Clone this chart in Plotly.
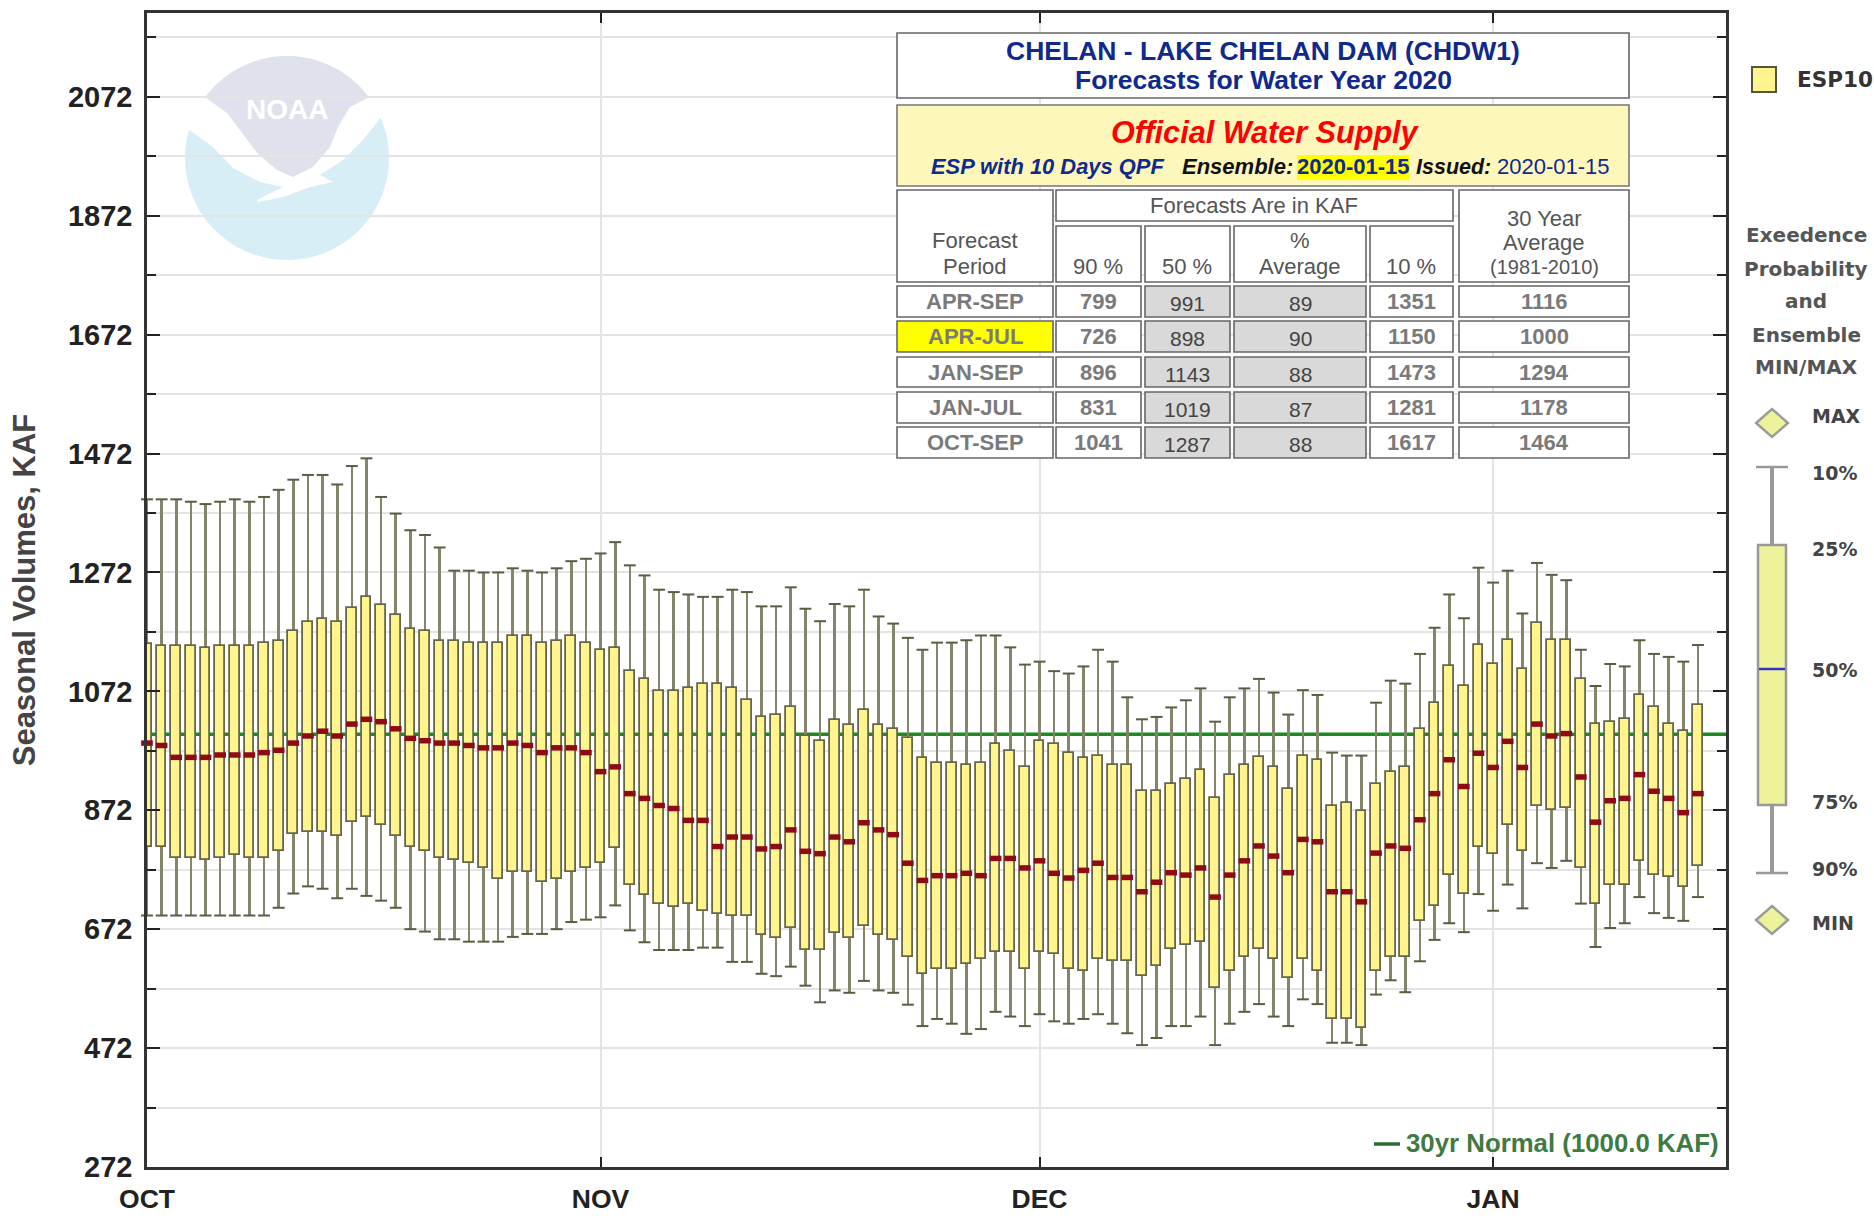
import numpy as np
import plotly.graph_objects as go

# ---------------- data -----------------
first_day = "2019-10-01"
p10 = [1395,1395,1395,1391,1387,1391,1395,1391,1399,1411,1428,1436,1436,1420,1451,1464,1399,1371,1343,1335,1314,1275,1275,1272,1272,1279,1275,1272,1279,1291,1295,1304,1323,
       1284,1267,1243,1239,1235,1231,1231,1243,1239,1215,1215,1247,1211,1190,1219,1215,1243,1198,1186,1162,1142,1154,1154,1158,1166,1166,1146,1117,1122,1106,1102,1114,1142,
       1122,1062,1025,1029,1045,1057,1077,1021,1062,1077,1093,1070,1033,1074,1066,969,964,964,1053,1090,1085,1135,1179,1235,1195,1280,1255,1275,1203,1288,1268,1259,1142,1081,1118,1114,1158,1135,1130,1122,1150]
p25 = [1152,1149,1149,1149,1145,1149,1149,1149,1153,1157,1173,1189,1193,1189,1213,1230,1217,1201,1177,1173,1157,1157,1153,1153,1153,1165,1165,1153,1157,1165,1153,1141,1145,
       1106,1093,1073,1073,1077,1085,1085,1077,1057,1029,1033,1045,997,989,1024,1016,1041,1016,1008,993,960,952,952,948,952,984,972,944,989,984,968,960,964,
       948,948,904,904,916,924,940,892,932,948,961,944,908,964,957,880,884,871,916,936,944,1009,1053,1114,1081,1150,1118,1158,1110,1187,1158,1158,1093,1017,1021,1025,1066,1045,1017,1005,1049]
p50 = [985,981,961,961,961,965,965,965,969,973,985,997,1005,997,1017,1025,1021,1009,993,989,985,985,981,977,977,985,981,969,977,977,969,937,945,
       900,892,880,875,855,855,811,827,827,807,811,839,803,799,827,819,851,839,831,783,754,762,762,766,762,791,791,775,787,766,758,771,783,
       759,759,735,751,767,763,775,726,763,787,812,795,767,823,819,735,735,718,800,812,808,856,900,957,912,968,944,988,944,1017,997,1001,928,852,888,892,932,904,892,868,900]
p75 = [811,811,792,792,788,792,796,792,792,804,832,836,836,828,852,860,848,828,811,804,792,788,784,775,756,768,768,752,756,768,775,784,808,
       747,729,714,710,714,702,698,694,694,662,657,674,637,637,666,657,678,662,653,626,597,605,605,613,622,634,634,605,634,630,605,601,622,
       618,618,594,610,638,646,650,573,602,626,638,622,590,622,602,521,521,505,602,626,626,686,711,763,731,811,799,848,803,880,872,876,775,715,747,747,787,763,759,743,779]
p90 = [695,695,695,695,695,695,695,695,695,708,732,744,740,724,740,728,720,708,672,668,655,655,651,651,651,659,664,664,672,684,688,692,712,
       670,650,637,637,637,641,641,617,617,597,593,609,577,549,569,565,585,569,565,545,509,521,513,496,504,533,525,509,529,517,513,521,529,
       513,497,477,489,509,509,525,477,513,533,546,525,509,554,546,481,481,477,562,586,566,618,654,682,667,731,703,747,707,783,775,787,715,642,674,682,726,699,691,686,726]
normal_30yr = 1000

periods = ["APR-SEP", "APR-JUL", "JAN-SEP", "JAN-JUL", "OCT-SEP"]
tbl_90 = [799, 726, 896, 831, 1041]
tbl_50 = [991, 898, 1143, 1019, 1287]
tbl_pct = [89, 90, 88, 87, 88]
tbl_10 = [1351, 1150, 1473, 1281, 1617]
tbl_avg = [1116, 1000, 1294, 1178, 1464]

month_ticks = ["2019-10-01", "2019-11-01", "2019-12-01", "2020-01-01"]
month_labels = ["OCT", "NOV", "DEC", "JAN"]

# ---------------- page geometry -----------------
W, H = 1874, 1218
L, R, T, B = 147, 1726, 13, 1167
def fx(x): return (x - L) / (R - L)
def fy(y): return 1 - (y - T) / (B - T)

FONT = "Liberation Sans"
WIDE = "DejaVu Sans"
DAY_MS = 86400000
dates = np.datetime64(first_day) + np.arange(len(p10)) * np.timedelta64(1, "D")
dates = [str(d) for d in dates]
arr = lambda v: np.array(v, dtype=float)

fig = go.Figure()
fig.add_trace(go.Bar(x=dates, base=p90, y=(arr(p10) - arr(p90)).tolist(), width=0.18 * DAY_MS,
                     marker=dict(color="#85856c", line=dict(width=0)), cliponaxis=False,
                     showlegend=False, hoverinfo="skip"))
fig.add_trace(go.Bar(x=dates, base=p75, y=(arr(p25) - arr(p75)).tolist(), width=0.66 * DAY_MS,
                     marker=dict(color="#fff48e", line=dict(color="#66664a", width=1.8)), cliponaxis=False,
                     name="ESP10", showlegend=False, hoverinfo="skip"))
for vals in (p10, p90):
    fig.add_trace(go.Scatter(x=dates, y=vals, mode="markers", cliponaxis=False, showlegend=False, hoverinfo="skip",
                             marker=dict(symbol="line-ew", size=8.5, line=dict(color="#5c5c44", width=2))))
fig.add_trace(go.Scatter(x=dates, y=p50, mode="markers", cliponaxis=False, showlegend=False, hoverinfo="skip",
                         marker=dict(symbol="line-ew", size=8.3, line=dict(color="#8e0a16", width=5.5))))

shapes = []
ann = []

def rect(x0, y0, x1, y1, fill="white", line="#666666", w=1.6, layer="above"):
    shapes.append(dict(type="rect", xref="paper", yref="paper", x0=fx(x0), x1=fx(x1), y0=fy(y1), y1=fy(y0),
                       fillcolor=fill, line=dict(color=line, width=w), layer=layer))

def txt(x, y, s, size, color="#333333", bold=False, italic=False, anchor="center", family=FONT):
    ann.append(dict(xref="paper", yref="paper", x=fx(x), y=fy(y), text=s, showarrow=False, xanchor=anchor,
                    yanchor="middle", borderpad=0, align="center",
                    font=dict(family=family, size=size, color=color, weight="bold" if bold else "normal",
                              style="italic" if italic else "normal")))

shapes.append(dict(type="line", xref="paper", yref="y", x0=0, x1=1, y0=normal_30yr, y1=normal_30yr,
                   line=dict(color="#1f8a22", width=3.5), layer="between"))

# NOAA logo watermark
def arc(cx, cy, r, a0, a1, n=60):
    t = np.radians(np.linspace(a0, a1, n))
    return list(zip(cx + r * np.cos(t), cy + r * np.sin(t)))
def poly(points, fill):
    p = "M" + "L".join(f"{fx(a):.5f},{fy(b):.5f}" for a, b in points) + "Z"
    shapes.append(dict(type="path", xref="paper", yref="paper", path=p, fillcolor=fill, line=dict(width=0), layer="below"))
poly(arc(287, 158, 102, -143.4, -36.6) + [(350, 107), (338, 127), (330, 147), (313, 167), (293, 177), (277, 170), (257, 153), (240, 130), (227, 113)], "#dfe2ed")
poly(arc(287, 158, 102, 196.1, -23.3) + [(363, 140), (343, 160), (320, 175), (333, 182), (310, 187), (283, 197), (258, 202), (257, 200), (283, 187), (260, 182), (233, 168), (213, 147)], "#d8eef6")
txt(287, 110, "NOAA", 28, "#ffffff", True)

shapes.append(dict(type="line", xref="paper", yref="paper", x0=fx(1374), x1=fx(1400), y0=fy(1144), y1=fy(1144),
                   line=dict(color="#2b6f2e", width=3.5), layer="above"))
txt(1720, 1143, "30yr Normal (1000.0 KAF)", 25.8, "#3f7a42", True, anchor="right")

# title block
NAVY = "#10298c"
rect(897, 33, 1629, 98)
txt(1263, 51, "CHELAN - LAKE CHELAN DAM (CHDW1)", 26.5, NAVY, True)
txt(1263, 80, "Forecasts for Water Year 2020", 26.5, NAVY, True)
rect(897, 105, 1629, 186, fill="#fef7bb", line="#777777")
txt(1265, 132, "Official Water Supply", 30.6, "#ff0000", True, True)
rect(1297, 155, 1409, 180, fill="#ffff00", line="#ffff00", w=0)
txt(930, 167, "ESP with 10 Days QPF", 21.9, NAVY, True, True, "left")
txt(1181, 167, "Ensemble:", 22, "#111111", True, True, "left")
txt(1353, 167, "2020-01-15", 22, NAVY, True)
txt(1415, 167, "Issued:", 21.5, "#111111", True, True, "left")
txt(1553, 167, "2020-01-15", 22, NAVY)

# table
cols = [(897, 1053), (1056, 1141), (1145, 1230), (1234, 1366), (1370, 1453), (1459, 1629)]
rows = [(286, 317), (321, 352), (357, 387), (392, 423), (427, 458)]
HEAD = "#555555"
GREY = "#7a7a7a"
rect(897, 190, 1053, 282)
rect(1056, 190, 1453, 221)
rect(1459, 190, 1629, 282)
for c in cols[1:5]:
    rect(c[0], 226, c[1], 282)
txt(975, 240, "Forecast", 22, HEAD)
txt(975, 266, "Period", 22, HEAD)
txt(1254, 205, "Forecasts Are in KAF", 22, HEAD)
txt(1098, 266, "90 %", 22, HEAD)
txt(1187, 266, "50 %", 22, HEAD)
txt(1300, 240, "%", 22, HEAD)
txt(1300, 266, "Average", 22, HEAD)
txt(1411, 266, "10 %", 22, HEAD)
txt(1544, 218, "30 Year", 22, HEAD)
txt(1544, 243, "Average", 22, HEAD)
txt(1544, 267, "(1981-2010)", 20, HEAD)
for i, r in enumerate(rows):
    cy = (r[0] + r[1]) / 2
    rowvals = [periods[i], tbl_90[i], tbl_50[i], tbl_pct[i], tbl_10[i], tbl_avg[i]]
    for j, c in enumerate(cols):
        fill = "#d9d9d9" if j in (2, 3) else ("#ffff00" if (i == 1 and j == 0) else "white")
        rect(c[0], r[0], c[1], r[1], fill=fill)
        if j in (2, 3):
            txt((c[0] + c[1]) / 2, cy + 2, str(rowvals[j]), 21, "#444444")
        else:
            txt((c[0] + c[1]) / 2, cy, str(rowvals[j]), 22, GREY, True)

# side legend
rect(1752, 67, 1776, 92, fill="#fff48e", line="#55553c", w=2)
txt(1796, 80, "ESP10", 21.5, "#333333", True, anchor="left", family=WIDE)
for yy, s in zip((235, 269, 301, 335, 367), ("Exeedence", "Probability", "and", "Ensemble", "MIN/MAX")):
    txt(1806, yy, s, 20, "#555555", True, family=WIDE)
def diamond(cy):
    pts = [(1772, cy - 14), (1788, cy), (1772, cy + 14), (1756, cy)]
    p = "M" + "L".join(f"{fx(a):.5f},{fy(b):.5f}" for a, b in pts) + "Z"
    shapes.append(dict(type="path", xref="paper", yref="paper", path=p, fillcolor="#eef29a",
                       line=dict(color="#999999", width=2.4), layer="above"))
def seg(x0, y0, x1, y1, color="#999999", w=3.5):
    shapes.append(dict(type="line", xref="paper", yref="paper", x0=fx(x0), x1=fx(x1), y0=fy(y0), y1=fy(y1),
                       line=dict(color=color, width=w), layer="above"))
diamond(423)
diamond(920)
seg(1772, 467, 1772, 873, w=4)
seg(1756, 467, 1788, 467, w=2.5)
seg(1756, 873, 1788, 873, w=2.5)
rect(1758, 545, 1786, 805, fill="#eef29a", line="#999999", w=2.5)
seg(1759, 669, 1785, 669, color="#3333cc", w=2.5)
for yy, s in zip((416, 473, 549, 670, 802, 869, 923), ("MAX", "10%", "25%", "50%", "75%", "90%", "MIN")):
    txt(1811, yy, s, 19, "#444444", True, anchor="left", family=WIDE)

GRID = "#e4e4e4"
fig.update_layout(
    width=W, height=H, autosize=False, margin=dict(l=L, r=W - R, t=T, b=H - B),
    paper_bgcolor="white", plot_bgcolor="white", barmode="overlay", bargap=0,
    showlegend=False, hovermode=False, shapes=shapes, annotations=ann,
    xaxis=dict(type="date", range=["2019-10-01", "2020-01-16T22:00:00"], tickmode="array", tickvals=month_ticks, ticktext=month_labels,
               automargin=False,
               showgrid=True, gridcolor=GRID, gridwidth=2, ticks="inside", ticklen=10, tickwidth=2, tickcolor="#222222",
               ticklabelstandoff=6,
               tickfont=dict(family=FONT, size=26.5, color="#222222", weight="bold"),
               showline=True, linecolor="#333333", linewidth=2.5, mirror="ticks", zeroline=False),
    yaxis=dict(range=[272, 2213], tick0=272, dtick=200, showgrid=True, gridcolor=GRID, gridwidth=2,
               automargin=False,
               ticks="inside", ticklen=13, tickwidth=2, tickcolor="#222222",
               ticklabelstandoff=6,
               minor=dict(tick0=272, dtick=100, ticks="inside", ticklen=9, tickwidth=2, tickcolor="#222222",
                          showgrid=True, gridcolor=GRID, gridwidth=2),
               tickfont=dict(family=FONT, size=29, color="#222222", weight="bold"),
               title=dict(text="Seasonal Volumes, KAF", font=dict(family=FONT, size=31, color="#444444", weight="bold"), standoff=24),
               showline=True, linecolor="#333333", linewidth=2.5, mirror="ticks", zeroline=False),
)
fig.write_html("out.html", config={"displayModeBar": False}, post_script="document.body.style.margin='0';")
